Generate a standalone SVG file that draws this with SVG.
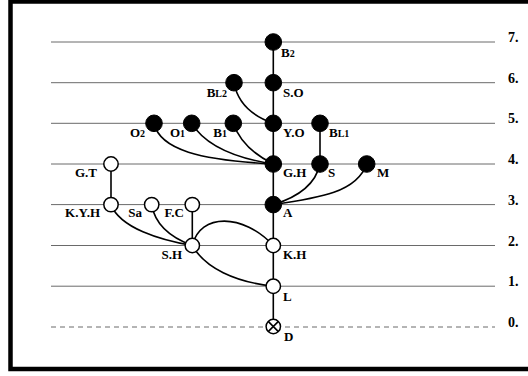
<svg xmlns="http://www.w3.org/2000/svg" width="528" height="376" viewBox="0 0 528 376">
  <style>
    .grid { stroke: #6a6a6a; stroke-width: 1; fill: none; }
    .dash { stroke: #6a6a6a; stroke-width: 1; fill: none; stroke-dasharray: 5 4; }
    .edge { stroke: #000; stroke-width: 1.6; fill: none; }
    .full { fill: #000; stroke: #000; stroke-width: 1; }
    .open { fill: #fff; stroke: #000; stroke-width: 1.5; }
    .lbl { font-family: "Liberation Serif", "Times New Roman", serif; font-weight: bold; font-size: 13px; fill: #000; }
    .end { text-anchor: end; }
    .lvl { font-family: "Liberation Serif", "Times New Roman", serif; font-weight: bold; font-size: 14px; fill: #000; }
    .sm { font-size: 10px; }
  </style>

  <rect x="0" y="0" width="528" height="376" fill="#fff"/>
  <!-- outer frame (right side runs off the canvas) -->
  <rect x="10.5" y="1.5" width="530" height="367.5" fill="none" stroke="#000" stroke-width="4.5"/>

  <!-- level lines -->
  <g id="levels">
    <line class="grid" x1="51" y1="42" x2="495" y2="42"/>
    <line class="grid" x1="51" y1="82.7" x2="495" y2="82.7"/>
    <line class="grid" x1="51" y1="123.3" x2="495" y2="123.3"/>
    <line class="grid" x1="51" y1="164" x2="495" y2="164"/>
    <line class="grid" x1="51" y1="204.6" x2="495" y2="204.6"/>
    <line class="grid" x1="51" y1="245.5" x2="495" y2="245.5"/>
    <line class="grid" x1="51" y1="286.2" x2="495" y2="286.2"/>
    <line class="dash" x1="51" y1="327" x2="495" y2="327"/>
    <text class="lvl" x="508" y="42">7.</text>
    <text class="lvl" x="508" y="82.7">6.</text>
    <text class="lvl" x="508" y="123.3">5.</text>
    <text class="lvl" x="508" y="164">4.</text>
    <text class="lvl" x="508" y="204.6">3.</text>
    <text class="lvl" x="508" y="245.5">2.</text>
    <text class="lvl" x="508" y="286.2">1.</text>
    <text class="lvl" x="508" y="327">0.</text>
  </g>

  <!-- connectors -->
  <g id="connectors">
    <line class="edge" x1="273.3" y1="42" x2="273.3" y2="327"/>
    <path class="edge" d="M234,82.7 C238,105 255,117 273.3,123.3"/>
    <path class="edge" d="M154,123.3 C160,150 200,160 273.3,164"/>
    <path class="edge" d="M191.7,123.3 C205,145 235,158 273.3,164"/>
    <path class="edge" d="M233.3,123.3 C240,143 255,155 273.3,164"/>
    <line class="edge" x1="320" y1="123.3" x2="320" y2="164"/>
    <path class="edge" d="M320,164 C315,187 295,198 273.3,204.6"/>
    <path class="edge" d="M366.7,164 C357,192 320,198 273.3,204.6"/>
    <line class="edge" x1="111" y1="164" x2="111" y2="204.6"/>
    <path class="edge" d="M111,204.6 C120,228 160,240 192.3,245.5"/>
    <path class="edge" d="M151.7,204.6 C155,225 172,238 192.3,245.5"/>
    <line class="edge" x1="192.3" y1="204.6" x2="192.3" y2="245.5"/>
    <path class="edge" d="M192.3,245.5 C200,213 243,213 273.3,245.5"/>
    <path class="edge" d="M192.3,245.5 C205,268 235,282 273.3,286.2"/>
  </g>

  <!-- level 7 -->
  <g id="B2"><circle class="full" cx="273.3" cy="42" r="8.3"/><text class="lbl" x="281" y="57">B<tspan class="sm">2</tspan></text></g>
  <!-- level 6 -->
  <g id="SO"><circle class="full" cx="273.3" cy="82.7" r="8.3"/><text class="lbl" x="283" y="96.7">S.O</text></g>
  <g id="BL2"><circle class="full" cx="234" cy="82.7" r="8.3"/><text class="lbl end" x="227" y="96.7">B<tspan class="sm">L2</tspan></text></g>
  <!-- level 5 -->
  <g id="O2"><circle class="full" cx="154" cy="123.3" r="8.3"/><text class="lbl end" x="145" y="136.5">O<tspan class="sm">2</tspan></text></g>
  <g id="O1"><circle class="full" cx="191.7" cy="123.3" r="8.3"/><text class="lbl end" x="185" y="136.5">O<tspan class="sm">1</tspan></text></g>
  <g id="B1"><circle class="full" cx="233.3" cy="123.3" r="8.3"/><text class="lbl end" x="227" y="136.5">B<tspan class="sm">1</tspan></text></g>
  <g id="YO"><circle class="full" cx="273.3" cy="123.3" r="8.3"/><text class="lbl" x="283" y="136.5">Y.O</text></g>
  <g id="BL1"><circle class="full" cx="320" cy="123.3" r="8.3"/><text class="lbl" x="329" y="136.5">B<tspan class="sm">L1</tspan></text></g>
  <!-- level 4 -->
  <g id="GT"><circle class="open" cx="111" cy="164" r="7.2"/><text class="lbl end" x="97" y="176.7">G.T</text></g>
  <g id="GH"><circle class="full" cx="273.3" cy="164" r="8.3"/><text class="lbl" x="283" y="176.7">G.H</text></g>
  <g id="S"><circle class="full" cx="320" cy="164" r="8.3"/><text class="lbl" x="328" y="176.7">S</text></g>
  <g id="M"><circle class="full" cx="366.7" cy="164" r="8.3"/><text class="lbl" x="377" y="176.7">M</text></g>
  <!-- level 3 -->
  <g id="KYH"><circle class="open" cx="111" cy="204.6" r="7.2"/><text class="lbl end" x="100" y="217">K.Y.H</text></g>
  <g id="Sa"><circle class="open" cx="151.7" cy="204.6" r="7.2"/><text class="lbl end" x="142" y="217">Sa</text></g>
  <g id="FC"><circle class="open" cx="192.3" cy="204.6" r="7.2"/><text class="lbl end" x="184" y="217">F.C</text></g>
  <g id="A"><circle class="full" cx="273.3" cy="204.6" r="8.3"/><text class="lbl" x="283" y="217">A</text></g>
  <!-- level 2 -->
  <g id="SH"><circle class="open" cx="192.3" cy="245.5" r="7.2"/><text class="lbl end" x="182" y="259">S.H</text></g>
  <g id="KH"><circle class="open" cx="273.3" cy="245.5" r="7.2"/><text class="lbl" x="283" y="259">K.H</text></g>
  <!-- level 1 -->
  <g id="L"><circle class="open" cx="273.3" cy="286.2" r="7.2"/><text class="lbl" x="283" y="301">L</text></g>
  <!-- level 0 -->
  <g id="D">
    <circle class="open" cx="273.3" cy="326.5" r="7.2"/>
    <path class="edge" d="M268.2,321.4 L278.4,331.6 M278.4,321.4 L268.2,331.6" stroke-width="1.4"/>
    <text class="lbl" x="284" y="340.5">D</text>
  </g>
</svg>
